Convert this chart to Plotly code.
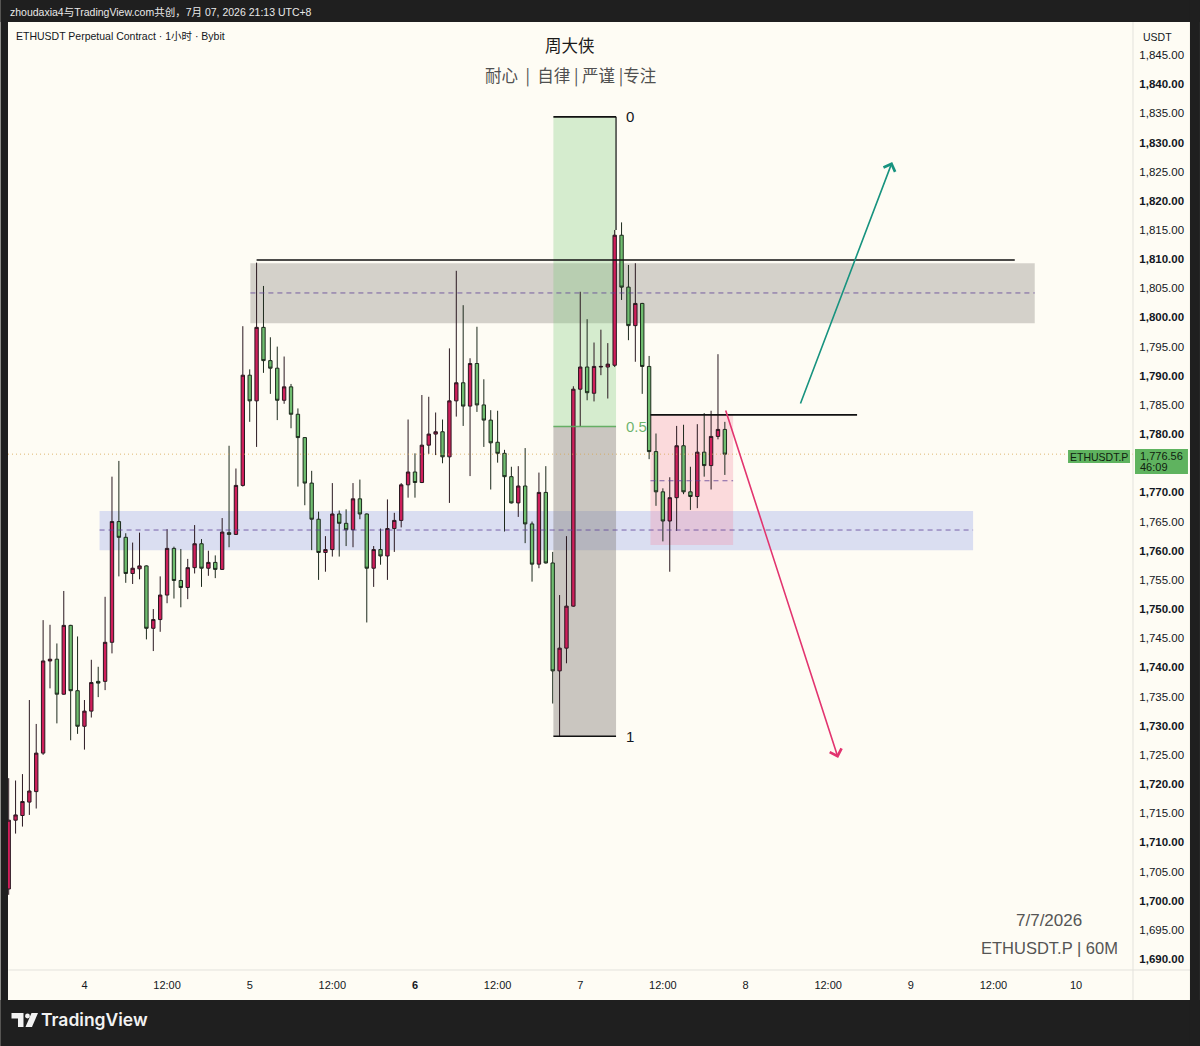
import plotly.graph_objects as go

# ---------------- data ----------------
start_hour = -11  # first candle: 3rd 13:00 (hours relative to day 4, 00:00)
opens = [1702.0, 1713.8, 1714.6, 1716.9, 1718.7, 1725.3, 1741.1, 1741.4, 1735.4, 1747.2,
         1736.0, 1729.9, 1732.5, 1737.6, 1737.6, 1744.3, 1765.0, 1762.3, 1756.1, 1756.9,
         1757.4, 1746.7, 1748.2, 1752.4, 1760.4, 1754.9, 1753.7, 1757.1, 1761.2, 1757.0,
         1758.0, 1756.8, 1763.1, 1762.8, 1771.2, 1790.1, 1785.7, 1798.3, 1792.6, 1791.3,
         1785.8, 1788.1, 1783.4, 1779.4, 1771.6, 1765.4, 1759.7, 1760.2, 1766.3, 1764.7,
         1763.6, 1768.9, 1766.3, 1757.0, 1760.2, 1759.1, 1763.8, 1765.2, 1771.3, 1773.5,
         1771.7, 1778.1, 1780.0, 1780.4, 1776.1, 1785.7, 1788.8, 1784.8, 1792.1, 1785.0,
         1782.4, 1778.6, 1776.7, 1772.7, 1768.2, 1771.1, 1764.6, 1757.7, 1770.0, 1757.9,
         1739.4, 1743.3, 1750.5, 1787.7, 1791.5, 1787.0, 1791.5, 1791.5, 1791.8, 1814.1,
         1805.2, 1798.6, 1802.4, 1791.6, 1777.0, 1770.1, 1765.1, 1769.1, 1778.0, 1770.1,
         1769.3, 1776.9, 1774.6, 1779.6, 1780.8]
highs = [1721.0, 1720.6, 1721.7, 1734.4, 1730.3, 1748.1, 1747.3, 1744.1, 1753.1, 1747.3,
         1745.3, 1734.4, 1741.3, 1740.1, 1752.1, 1772.7, 1775.4, 1763.0, 1761.4, 1763.1,
         1757.5, 1750.0, 1755.6, 1763.7, 1760.7, 1760.3, 1758.6, 1764.4, 1762.0, 1760.0,
         1759.2, 1765.6, 1778.0, 1774.1, 1798.5, 1791.1, 1809.4, 1805.4, 1796.6, 1795.0,
         1793.3, 1788.6, 1784.4, 1779.5, 1773.7, 1766.7, 1762.5, 1771.6, 1766.9, 1767.1,
         1771.6, 1772.2, 1766.4, 1760.8, 1763.8, 1768.8, 1766.5, 1771.6, 1782.5, 1776.7,
         1786.7, 1786.4, 1783.7, 1782.5, 1794.7, 1808.0, 1802.1, 1793.0, 1798.4, 1789.4,
         1784.1, 1784.0, 1777.3, 1774.4, 1774.5, 1777.6, 1765.0, 1773.4, 1774.5, 1759.8,
         1752.4, 1762.5, 1788.2, 1804.4, 1799.7, 1795.7, 1797.9, 1795.6, 1815.0, 1816.3,
         1809.0, 1809.3, 1802.5, 1793.4, 1780.1, 1770.7, 1772.6, 1781.4, 1781.6, 1774.4,
         1781.7, 1783.6, 1784.0, 1793.7, 1782.1]
lows = [1701.0, 1711.5, 1712.7, 1714.7, 1715.8, 1725.0, 1736.4, 1730.4, 1735.3, 1727.5,
        1728.6, 1725.9, 1731.4, 1734.9, 1736.1, 1742.4, 1755.6, 1754.5, 1754.3, 1755.1,
        1744.8, 1742.8, 1746.1, 1751.0, 1751.8, 1750.3, 1751.7, 1756.1, 1753.8, 1755.7,
        1755.3, 1756.7, 1760.6, 1762.7, 1771.0, 1782.1, 1777.8, 1790.5, 1786.9, 1782.4,
        1785.2, 1781.0, 1771.0, 1767.8, 1760.1, 1755.0, 1756.4, 1759.0, 1759.0, 1760.8,
        1760.6, 1765.4, 1747.7, 1753.8, 1757.6, 1755.0, 1759.8, 1764.0, 1769.1, 1769.1,
        1771.6, 1776.6, 1776.4, 1775.0, 1768.2, 1783.0, 1781.4, 1772.8, 1783.8, 1777.8,
        1770.5, 1775.1, 1763.3, 1768.1, 1765.8, 1761.3, 1754.7, 1757.0, 1757.8, 1733.8,
        1728.2, 1740.7, 1750.4, 1781.3, 1785.8, 1785.6, 1790.1, 1786.1, 1791.5, 1803.0,
        1796.1, 1792.4, 1786.9, 1775.7, 1767.7, 1761.6, 1756.4, 1763.4, 1769.7, 1767.0,
        1767.3, 1772.7, 1770.5, 1779.1, 1773.0]
closes = [1713.8, 1714.7, 1717.0, 1718.8, 1725.3, 1741.1, 1741.4, 1735.4, 1747.2, 1736.0,
          1729.9, 1732.5, 1737.4, 1737.3, 1744.3, 1765.0, 1762.3, 1756.1, 1757.0, 1757.4,
          1746.7, 1748.2, 1752.4, 1760.4, 1754.9, 1753.7, 1757.1, 1761.2, 1757.0, 1758.0,
          1756.8, 1763.2, 1762.8, 1771.2, 1790.1, 1785.7, 1798.3, 1792.6, 1791.3, 1785.8,
          1788.1, 1783.4, 1779.4, 1771.6, 1765.4, 1759.7, 1760.2, 1766.3, 1764.7, 1763.6,
          1768.9, 1766.3, 1757.0, 1760.2, 1759.1, 1763.8, 1765.2, 1771.3, 1773.5, 1771.7,
          1778.1, 1780.0, 1780.4, 1776.1, 1785.7, 1788.8, 1784.8, 1792.1, 1785.0, 1782.4,
          1778.5, 1776.7, 1772.7, 1768.2, 1771.1, 1764.6, 1757.7, 1770.0, 1757.9, 1739.4,
          1743.3, 1750.5, 1787.7, 1791.5, 1787.1, 1791.6, 1791.6, 1792.0, 1814.1, 1805.2,
          1798.6, 1802.4, 1791.6, 1777.0, 1770.1, 1765.1, 1769.1, 1778.0, 1770.1, 1769.3,
          1776.9, 1774.6, 1779.6, 1780.8, 1776.56]
last_price = 1776.56
countdown = "46:09"

x_tick_hours = [0, 12, 24, 36, 48, 60, 72, 84, 96, 108, 120, 132, 144]
x_tick_text = ["4", "12:00", "5", "12:00", "<b>6</b>", "12:00", "7", "12:00", "8", "12:00", "9", "12:00", "10"]
y_tick_values = [v for v in range(1690, 1850, 5) if v != 1775]
y_tick_text = [("<b>%s</b>" if v % 10 == 0 else "%s") % f"{v:,.2f}" for v in y_tick_values]

# drawings (hours, prices)
supply_zone = [24.1, 138.0, 1799.0, 1809.3]     # x0, x1, y0, y1
supply_mid = 1804.2
supply_top_line = [25.0, 135.1, 1809.85]
demand_zone = [2.2, 129.05, 1760.1, 1766.8]
demand_mid = 1763.55
fib_x = [68.1, 77.2]
fib_levels = [1834.4, 1781.3, 1728.2]           # 0, 0.5, 1
fib_labels = ["0", "0.5", "1"]
fib_stem_to = 1815.0
pink_box = [82.2, 94.2, 1761.0, 1783.3]
pink_mid = 1772.0
pink_top_line_end = 112.2
up_arrow = [103.9, 1785.0, 117.3, 1826.65]      # tail x, tail y, head x, head y
down_arrow = [93.05, 1784.3, 109.45, 1724.46]

# ---------------- layout geometry ----------------
W, H = 1200, 1046
ML, MR, MT, MB = 7.5, 67, 22, 76
PW, PH = W - ML - MR, H - MT - MB
X_RANGE = [-11.10, 152.27]
Y_RANGE = [1688.11, 1850.66]


def px(x):
    return (x - ML) / PW


def py(y):
    return (H - MB - y) / PH


CREAM = "#fefcf4"
DARK = "#1f1f1f"
TXT = "#131722"
FONT = "'Liberation Sans', 'Noto Sans CJK SC', sans-serif"
CJK = "'Noto Sans CJK SC', 'Liberation Sans', sans-serif"
RED = "#cf1f5b"
GREEN = "#6fbd6f"

hours = [start_hour + i for i in range(len(opens))]

fig = go.Figure()
fig.add_trace(go.Candlestick(
    x=hours, open=opens, high=highs, low=lows, close=closes,
    increasing=dict(fillcolor=RED, line=dict(color="#2a1820", width=1)),
    decreasing=dict(fillcolor=GREEN, line=dict(color="#1d2a1d", width=1)),
    whiskerwidth=0, hoverinfo="skip", showlegend=False,
))

shapes = []
# zones
shapes.append(dict(type="rect", xref="x", yref="y", x0=supply_zone[0], x1=supply_zone[1],
                   y0=supply_zone[2], y1=supply_zone[3], fillcolor="rgba(150,146,140,0.40)",
                   line=dict(width=0), layer="below"))
shapes.append(dict(type="rect", xref="x", yref="y", x0=demand_zone[0], x1=demand_zone[1],
                   y0=demand_zone[2], y1=demand_zone[3], fillcolor="rgba(90,120,230,0.22)",
                   line=dict(width=0), layer="below"))
shapes.append(dict(type="rect", xref="x", yref="y", x0=fib_x[0], x1=fib_x[1],
                   y0=fib_levels[1], y1=fib_levels[0], fillcolor="rgba(120,200,120,0.30)",
                   line=dict(width=0), layer="below"))
shapes.append(dict(type="rect", xref="x", yref="y", x0=fib_x[0], x1=fib_x[1],
                   y0=fib_levels[2], y1=fib_levels[1], fillcolor="rgba(130,125,118,0.42)",
                   line=dict(width=0), layer="below"))
shapes.append(dict(type="rect", xref="x", yref="y", x0=pink_box[0], x1=pink_box[1],
                   y0=pink_box[2], y1=pink_box[3], fillcolor="rgba(245,140,165,0.30)",
                   line=dict(width=0), layer="below"))
# dashed mid lines
for (xa, xb, yv) in [(supply_zone[0], supply_zone[1], supply_mid),
                     (demand_zone[0], demand_zone[1], demand_mid),
                     (pink_box[0], pink_box[1], pink_mid)]:
    shapes.append(dict(type="line", xref="x", yref="y", x0=xa, x1=xb, y0=yv, y1=yv,
                       line=dict(color="rgba(95,65,150,0.8)", width=1, dash="5px,4px")))
# solid lines
shapes.append(dict(type="line", xref="x", yref="y", x0=supply_top_line[0], x1=supply_top_line[1],
                   y0=supply_top_line[2], y1=supply_top_line[2], line=dict(color="#111", width=1.6)))
shapes.append(dict(type="line", xref="x", yref="y", x0=pink_box[0], x1=pink_top_line_end,
                   y0=pink_box[3], y1=pink_box[3], line=dict(color="#111", width=1.6)))
fib_colors = ["#111", "rgba(90,170,90,0.9)", "#111"]
for lvl, col in zip(fib_levels, fib_colors):
    shapes.append(dict(type="line", xref="x", yref="y", x0=fib_x[0], x1=fib_x[1], y0=lvl, y1=lvl,
                       line=dict(color=col, width=1.6)))
shapes.append(dict(type="line", xref="x", yref="y", x0=fib_x[1], x1=fib_x[1],
                   y0=fib_levels[0], y1=fib_stem_to, line=dict(color="#111", width=1.2)))
# last price dotted line
shapes.append(dict(type="line", xref="paper", yref="y", x0=0, x1=1, y0=last_price, y1=last_price,
                   line=dict(color="rgba(215,165,80,0.8)", width=1, dash="1px,3px")))
# axis separators
shapes.append(dict(type="line", xref="paper", yref="paper", x0=px(1133), x1=px(1133),
                   y0=py(22), y1=py(1000), line=dict(color="#e3e2dc", width=1)))
shapes.append(dict(type="line", xref="paper", yref="paper", x0=px(8), x1=px(1190),
                   y0=py(970), y1=py(970), line=dict(color="#e3e2dc", width=1)))
# price label boxes
shapes.append(dict(type="rect", xref="paper", yref="paper", x0=px(1135), x1=px(1188),
                   y0=py(474), y1=py(449), fillcolor="#5fb35f", line=dict(width=0)))
shapes.append(dict(type="rect", xref="paper", yref="paper", x0=px(1068), x1=px(1130),
                   y0=py(463), y1=py(450), fillcolor="#5fb35f", line=dict(width=0)))
# dark frame
for (a, b, c, d) in [(0, 1200, 0, 22), (0, 1200, 1000, 1046), (0, 7.5, 0, 1046), (1190, 1200, 0, 1046)]:
    shapes.append(dict(type="rect", xref="paper", yref="paper", x0=px(a), x1=px(b),
                       y0=py(d), y1=py(c), fillcolor=DARK, line=dict(width=0), layer="above"))


def path(points):
    s = "M " + " L ".join(f"{px(a):.5f},{py(b):.5f}" for a, b in points) + " Z"
    return s


# TradingView logo
shapes.append(dict(type="path", xref="paper", yref="paper",
                   path=path([(11, 1013), (23, 1013), (23, 1027), (17.5, 1027), (17.5, 1018.5), (11, 1018.5)]),
                   fillcolor="#f2f2f2", line=dict(width=0), layer="above"))
shapes.append(dict(type="circle", xref="paper", yref="paper", x0=px(24.6), x1=px(29.4),
                   y0=py(1018.4), y1=py(1013.6), fillcolor="#f2f2f2", line=dict(width=0), layer="above"))
shapes.append(dict(type="path", xref="paper", yref="paper",
                   path=path([(31, 1013), (37.5, 1013), (31.5, 1027), (25, 1027)]),
                   fillcolor="#f2f2f2", line=dict(width=0), layer="above"))

ann = []


def text(x, y, s, size, color=TXT, xanchor="left", family=FONT, weight=None):
    f = dict(size=size, color=color, family=family)
    if weight:
        f["weight"] = weight
    ann.append(dict(xref="paper", yref="paper", x=px(x), y=py(y), text=s, showarrow=False,
                    xanchor=xanchor, yanchor="middle", font=f))


text(7, 12, "zhoudaxia4与TradingView.com共创，7月 07, 2026 21:13 UTC+8", 10.5, "#e9e9e9")
text(14, 36, "ETHUSDT Perpetual Contract · 1小时 · Bybit", 10.5, TXT)
text(570, 45, "周大侠", 16.5, "#1a1a1a", "center", CJK)
text(570, 75, "耐心  |  自律 | 严谨 |专注", 16.5, "#505050", "center", CJK)
text(1049, 920, "7/7/2026", 17, "#555555", "center")
text(1049, 948, "ETHUSDT.P | 60M", 16.5, "#555555", "center")
text(1141, 37, "USDT", 10.5, TXT)
text(1099, 456.5, "ETHUSDT.P", 10.5, "#10220f", "center")
text(1138, 456, f"{last_price:,.2f}", 11, "#10220f")
text(1138, 467, countdown, 11, "#10220f")
text(39, 1020, "TradingView", 17.5, "#f2f2f2", weight=600, family="Inter, 'Liberation Sans'")

fib_label_colors = [TXT, "rgba(100,175,100,0.95)", TXT]
for lvl, lab, col in zip(fib_levels, fib_labels, fib_label_colors):
    ann.append(dict(xref="x", yref="y", x=fib_x[1] + 1.1, y=lvl, text=lab, showarrow=False,
                    xanchor="left", yanchor="middle", font=dict(size=15, color=col, family=FONT)))

# arrows
for arr, col in [(up_arrow, "#17937f"), (down_arrow, "#e2346f")]:
    ann.append(dict(xref="x", yref="y", axref="x", ayref="y", x=arr[2], y=arr[3], ax=arr[0], ay=arr[1],
                    text="", showarrow=True, arrowhead=4, arrowsize=1.5, arrowwidth=1.6,
                    arrowcolor=col, standoff=0))

fig.update_layout(
    width=W, height=H,
    margin=dict(l=ML, r=MR, t=MT, b=MB, pad=0),
    paper_bgcolor=CREAM, plot_bgcolor=CREAM,
    shapes=shapes, annotations=ann, showlegend=False,
    font=dict(family=FONT, color=TXT),
    xaxis=dict(range=X_RANGE, showgrid=False, zeroline=False, rangeslider=dict(visible=False),
               tickmode="array", tickvals=x_tick_hours, ticktext=x_tick_text,
               ticks="outside", ticklen=5, tickcolor="rgba(0,0,0,0)",
               tickfont=dict(size=11, color=TXT, family=FONT), showline=False, fixedrange=True),
    yaxis=dict(range=Y_RANGE, side="right", showgrid=False, zeroline=False,
               tickmode="array", tickvals=y_tick_values, ticktext=y_tick_text,
               ticks="outside", ticklen=3, tickcolor="rgba(0,0,0,0)",
               tickfont=dict(size=11.5, color=TXT, family=FONT), showline=False, fixedrange=True),
)

fig.write_html("out.html")
